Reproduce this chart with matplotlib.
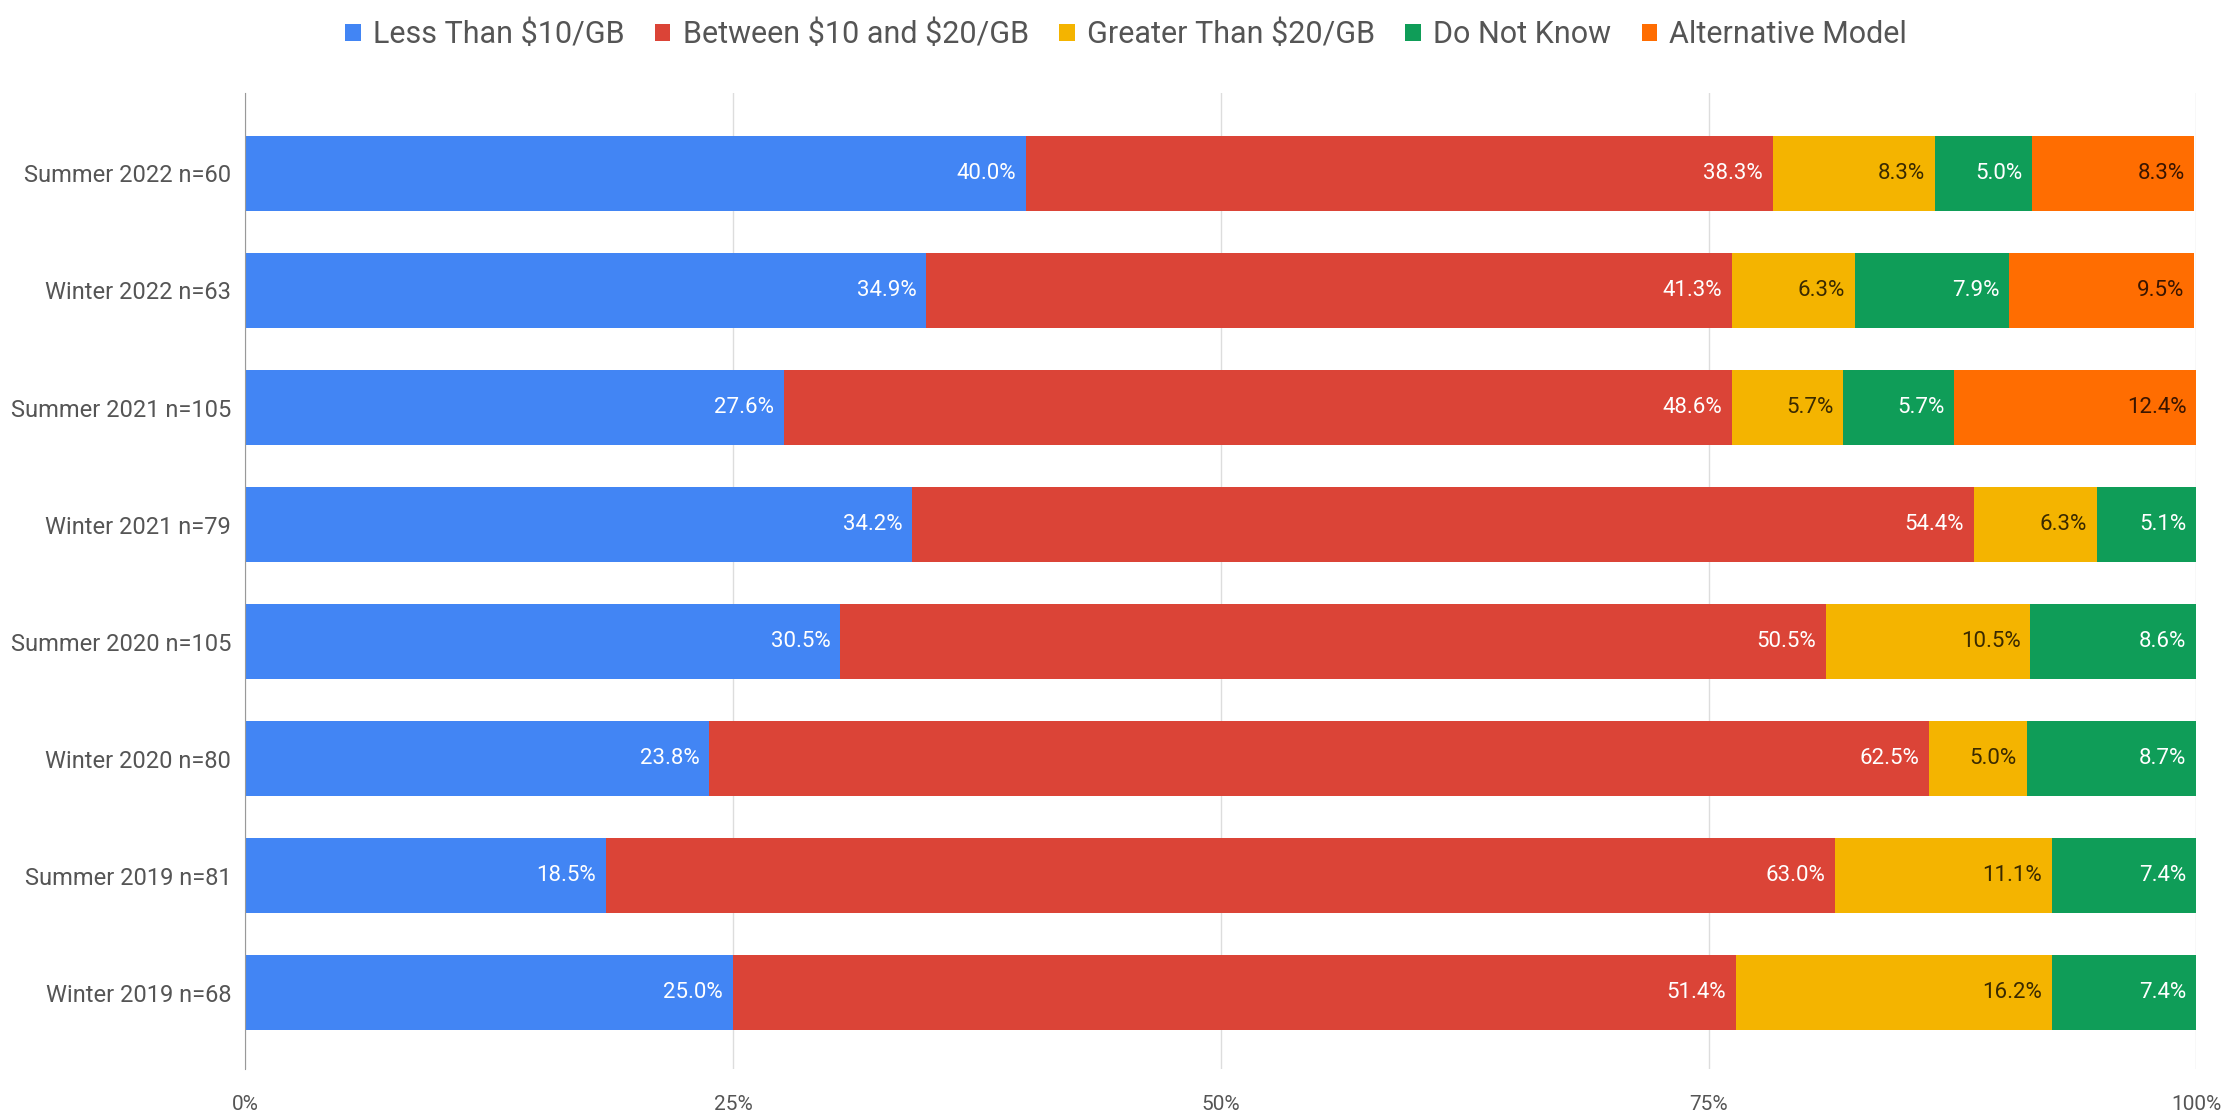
import numpy as np
import matplotlib.pyplot as plt
from matplotlib.ticker import FuncFormatter

plt.rcParams['font.family'] = ['Roboto', 'DejaVu Sans']

# Survey waves, top to bottom as shown
waves = ['Summer 2022 n=60', 'Winter 2022 n=63', 'Summer 2021 n=105',
         'Winter 2021 n=79', 'Summer 2020 n=105', 'Winter 2020 n=80',
         'Summer 2019 n=81', 'Winter 2019 n=68']

series = ['Less Than \\$10/GB', 'Between \\$10 and \\$20/GB', 'Greater Than \\$20/GB',
          'Do Not Know', 'Alternative Model']

less_10 = [40.0, 34.9, 27.6, 34.2, 30.5, 23.8, 18.5, 25.0]
between_10_20 = [38.3, 41.3, 48.6, 54.4, 50.5, 62.5, 63.0, 51.4]
greater_20 = [8.3, 6.3, 5.7, 6.3, 10.5, 5.0, 11.1, 16.2]
dont_know = [5.0, 7.9, 5.7, 5.1, 8.6, 8.7, 7.4, 7.4]
alt_model = [8.3, 9.5, 12.4, 0, 0, 0, 0, 0]

colors = ['#4285F4', '#DB4437', '#F4B400', '#0F9D58', '#FF6D01']
label_colors = ['white', 'white', '#3a2a00', 'white', '#3a1500']

values = [less_10, between_10_20, greater_20, dont_know, alt_model]

fig = plt.figure(figsize=(22.3, 11.12), dpi=100)
ax = fig.add_axes([0.1099, 0.0387, 0.875, 0.878])

y = np.arange(len(waves))[::-1]
left = np.zeros(len(waves))
for name, vals, c, lc in zip(series, values, colors, label_colors):
    vals = np.array(vals)
    ax.barh(y, vals, left=left, height=0.64, color=c, label=name, zorder=3)
    for yi, l, v in zip(y, left, vals):
        if v > 0:
            # label sits inside the right end of each segment
            ax.annotate('%.1f%%' % v, (min(l + v, 100), yi), xytext=(-7, 0),
                        textcoords='offset points', ha='right', va='center',
                        color=lc, fontsize=16, zorder=4, annotation_clip=False)
    left += vals

ax.set_xlim(0, 100)
ax.set_ylim(-0.65, 7.69)
ax.set_yticks(y)
ax.set_yticklabels(waves, fontsize=17, color='#555555')
ax.set_xticks([0, 25, 50, 75, 100])
ax.xaxis.set_major_formatter(FuncFormatter(lambda v, p: '%d%%' % v))
ax.tick_params(axis='x', labelsize=15, colors='#555555', length=0, pad=19)
ax.tick_params(axis='y', length=0, pad=10)
ax.grid(axis='x', color='#dddddd', linewidth=1, zorder=0)
for s in ['top', 'right', 'bottom']:
    ax.spines[s].set_visible(False)
ax.spines['left'].set_color('#999999')
ax.spines['left'].set_zorder(5)

fig.legend(loc='upper center', bbox_to_anchor=(0.505, 1.007), ncol=5,
           frameon=False, fontsize=22, labelcolor='#555555',
           handlelength=0.5, handleheight=0.5, handletextpad=0.4,
           columnspacing=1.0)

fig.savefig('out.png', dpi=100)
